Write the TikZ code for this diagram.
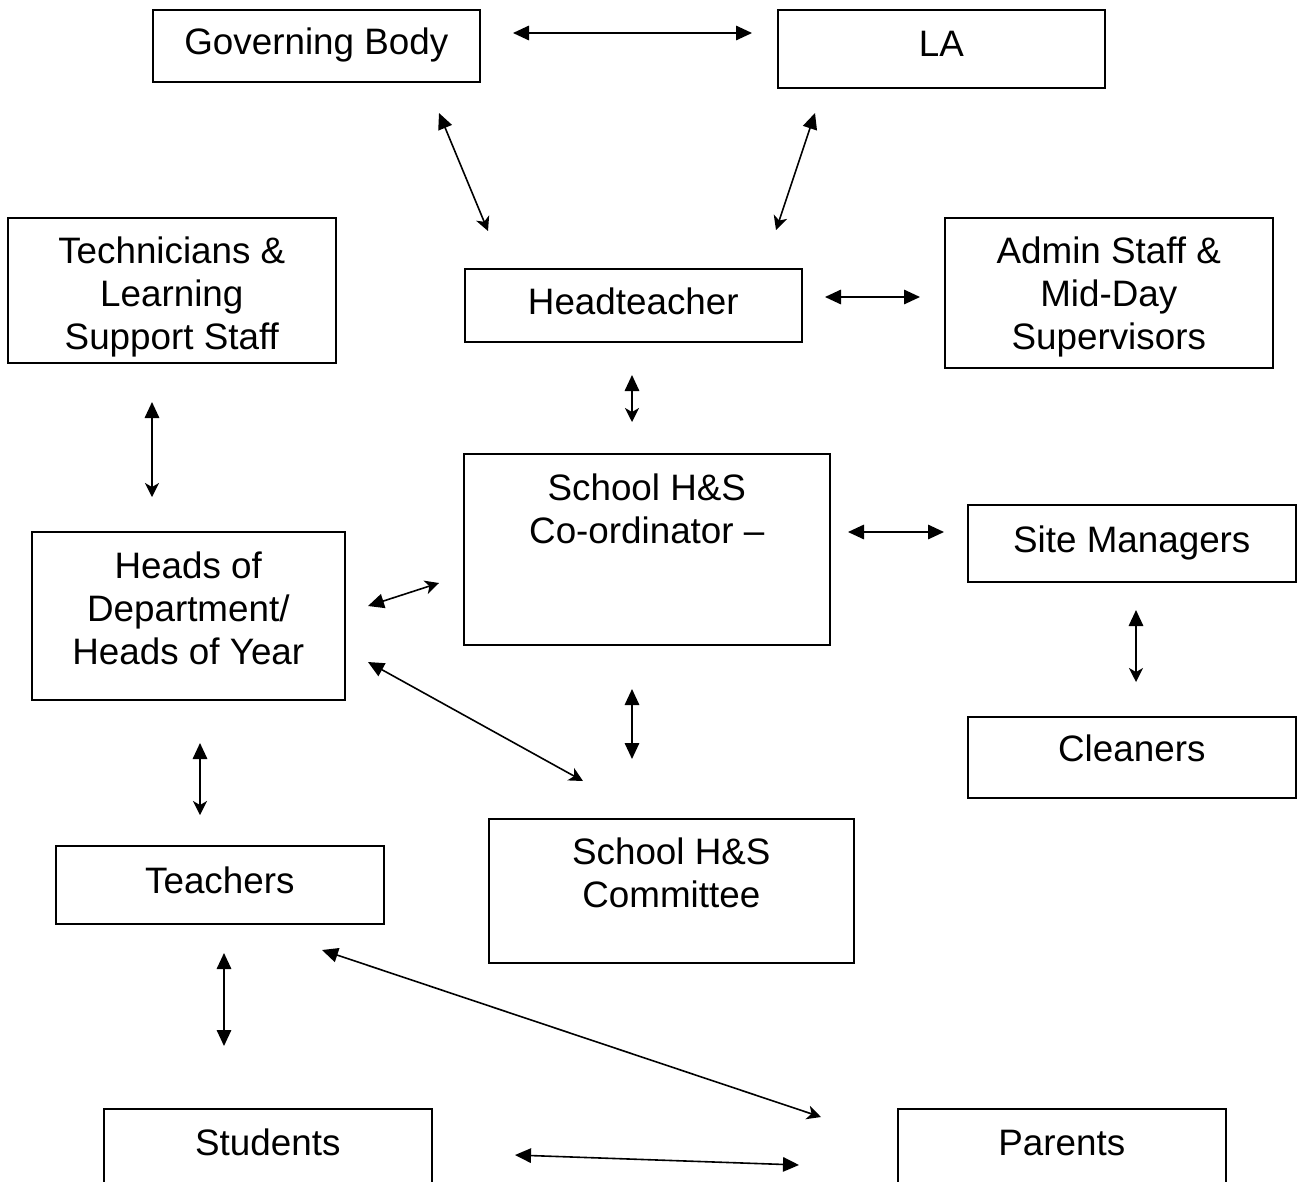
\documentclass[tikz,border=0pt]{standalone}
\usepackage{fontspec}
\setmainfont{Liberation Sans}
\usepackage{tikz}
\usetikzlibrary{arrows.meta}
\newcommand{\orgfont}{\fontsize{36.8}{43}\selectfont}

\begin{document}
\begin{tikzpicture}[x=1pt,y=-1pt,
  box/.style={draw, line width=1.6pt, inner sep=0pt, anchor=north west, align=center, font=\orgfont},
  one/.style={text height=27.5pt, text depth=9.2pt},
  link/.style={line width=1.6pt, {Triangle[length=16pt,width=14.5pt]}-{Triangle[length=16pt,width=14.5pt]}},
  linkb/.style={line width=1.6pt, {Triangle[length=16pt,width=14.5pt]}-{Stealth[length=14pt,width=14pt,inset=4pt]}}]

  \useasboundingbox (0,0) rectangle (1298,1181);
  \clip (0,0) rectangle (1298,1181);

  \node[box,one,minimum width=327pt,minimum height=72pt] (gov) at (152,9) {Governing Body};
  \node[box,one,text depth=13pt,minimum width=327pt,minimum height=78pt] (la) at (777,9) {LA};
  \node[box,minimum width=328pt,minimum height=145pt] (tech) at (7,217) {\rule{0pt}{41pt}Technicians \&\\Learning\\Support Staff};
  \node[box,one,minimum width=337pt,minimum height=73pt] (head) at (464,268) {Headteacher};
  \node[box,minimum width=328pt,minimum height=150pt] (admin) at (944,217) {\rule{0pt}{35pt}Admin Staff \&\\Mid-Day\\Supervisors};
  \node[box,minimum width=366pt,minimum height=191pt] (coord) at (463,453) {School H\&S\\Co-ordinator –\\[39pt]\mbox{}};
  \node[box,one,minimum width=328pt,minimum height=77pt] (site) at (967,504) {Site Managers};
  \node[box,minimum width=313pt,minimum height=168pt] (heads) at (31,531) {Heads of\\Department/\\Heads of Year\\[-28pt]\mbox{}};
  \node[box,one,text depth=19pt,minimum width=328pt,minimum height=81pt] (clean) at (967,716) {Cleaners};
  \node[box,one,minimum width=328pt,minimum height=78pt] (teach) at (55,845) {Teachers};
  \node[box,minimum width=365pt,minimum height=144pt] (cttee) at (488,818) {School H\&S\\Committee\\[-7pt]\mbox{}};
  \node[box,one,minimum width=328pt,minimum height=76pt] (stud) at (103,1108) {Students};
  \node[box,one,minimum width=328pt,minimum height=76pt] (par) at (897,1108) {Parents};

  % arrow ends
  \coordinate (gov-e) at (513,33);   \coordinate (la-w) at (752,33);
  \coordinate (gov-s) at (439,113);  \coordinate (head-nw) at (488,231);
  \coordinate (la-s) at (815,113);   \coordinate (head-ne) at (776,230);
  \coordinate (head-e) at (825,297); \coordinate (admin-w) at (920,297);
  \coordinate (head-s) at (632,375); \coordinate (coord-n) at (632,422);
  \coordinate (tech-s) at (152,402); \coordinate (heads-n) at (152,497);
  \coordinate (coord-e) at (848,532); \coordinate (site-w) at (944,532);
  \coordinate (heads-e) at (368,606); \coordinate (coord-w) at (439,583);
  \coordinate (heads-se) at (368,662); \coordinate (cttee-nw) at (583,781);
  \coordinate (coord-s) at (632,689); \coordinate (cttee-n) at (632,759);
  \coordinate (site-s) at (1136,610); \coordinate (clean-n) at (1136,682);
  \coordinate (heads-s) at (200,743); \coordinate (teach-n) at (200,815);
  \coordinate (teach-s) at (224,953); \coordinate (stud-n) at (224,1046);
  \coordinate (teach-se) at (322,950); \coordinate (par-nw) at (821,1117);
  \coordinate (stud-e) at (515,1155); \coordinate (par-w) at (799,1165);

  \draw[link] (gov-e) -- (la-w);
  \draw[linkb] (gov-s) -- (head-nw);
  \draw[linkb] (la-s) -- (head-ne);
  \draw[link] (head-e) -- (admin-w);
  \draw[linkb] (head-s) -- (coord-n);
  \draw[linkb] (tech-s) -- (heads-n);
  \draw[link] (coord-e) -- (site-w);
  \draw[linkb] (heads-e) -- (coord-w);
  \draw[linkb] (heads-se) -- (cttee-nw);
  \draw[link] (coord-s) -- (cttee-n);
  \draw[linkb] (site-s) -- (clean-n);
  \draw[linkb] (heads-s) -- (teach-n);
  \draw[link] (teach-s) -- (stud-n);
  \draw[linkb] (teach-se) -- (par-nw);
  \draw[link] (stud-e) -- (par-w);
\end{tikzpicture}
\end{document}
